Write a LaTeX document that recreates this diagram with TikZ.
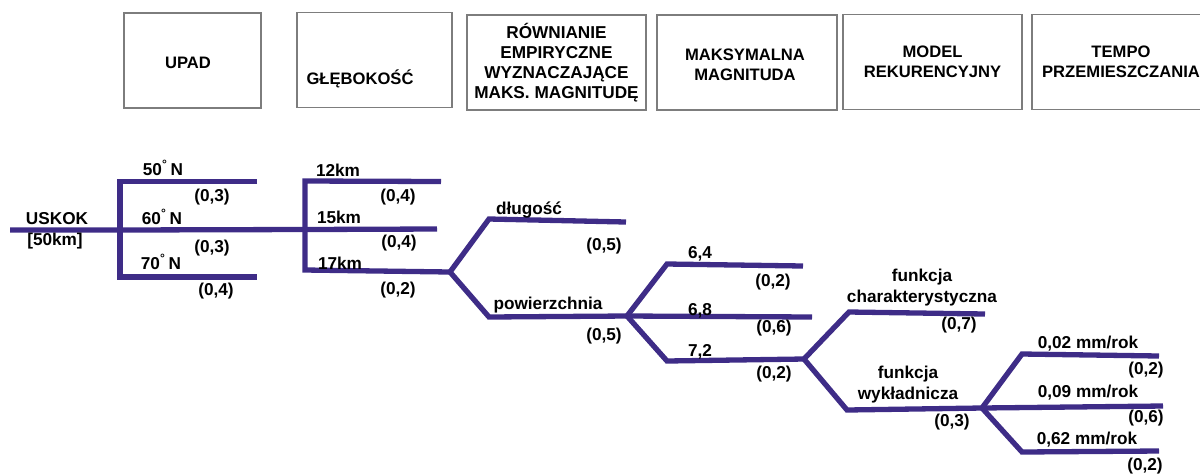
\documentclass[tikz,border=0pt]{standalone}
\usepackage{fontspec}
\setmainfont{Liberation Sans}
\usepackage{tikz}
\usetikzlibrary{%
calc,%
positioning}
\definecolor{faultline}{RGB}{62,44,135}
\definecolor{boxgray}{RGB}{125,125,125}
\tikzset{
  headbox/.style={draw=boxgray,line width=0.8pt,minimum height=47.5pt,inner sep=0pt,align=center,font=\bfseries\fontsize{8.3}{10}\selectfont},
  lbl/.style={inner sep=0pt,align=center,font=\bfseries\fontsize{8.6}{10.5}\selectfont},
  branch/.style={faultline,line width=2.65pt}
}

\begin{document}
\begin{tikzpicture}[x=0.5pt,y=-0.5pt]
\useasboundingbox (0,0) rectangle (1200,473);
\begin{scope}
\clip (0,0) rectangle (1200,473);
\node[headbox,minimum width=68.5pt] (upad) at (192.5,60.5) {};
\node[lbl,font=\bfseries\fontsize{8.3}{10}\selectfont] (upadtxt) at (188,63) {UPAD};
\node[headbox,minimum width=77.5pt] (glebokosc) at (374.5,60) {};
\node[lbl,font=\bfseries\fontsize{8.3}{10}\selectfont] (glebokosctxt) at (360,79) {GŁĘBOKOŚĆ};
\node[headbox,minimum width=89.5pt,font=\bfseries\fontsize{8.6}{10}\selectfont] (rownanie) at (556.5,62.5) {RÓWNIANIE\\EMPIRYCZNE\\WYZNACZAJĄCE\\MAKS. MAGNITUDĘ};
\node[headbox,minimum width=90pt] (magnituda) at (747,62.5) {};
\node[lbl,font=\bfseries\fontsize{8.3}{10}\selectfont] (magnitudatxt) at (745,65) {MAKSYMALNA\\MAGNITUDA};
\node[headbox,minimum width=89.5pt] (model) at (932.5,62) {MODEL\\REKURENCYJNY};
\node[headbox,minimum width=89pt] (tempo) at (1121,62) {TEMPO\\PRZEMIESZCZANIA};
\end{scope}

\begin{scope}[every path/.style={branch}]
\coordinate (s0) at (10,230);
\coordinate (j1) at (120,230);
\coordinate (j1a) at (120,181.5);
\coordinate (j1b) at (120,277);
\coordinate (e1a) at (257,181.5);
\coordinate (e1b) at (257,277);
\coordinate (j2) at (305,229.5);
\coordinate (j2a) at (305,181);
\coordinate (j2b) at (305,270);
\coordinate (e2a) at (441,181.5);
\coordinate (e2m) at (437,229);
\coordinate (s3) at (450,272);
\coordinate (d1) at (489,219);
\coordinate (e3a) at (626,222);
\coordinate (d2) at (489,317);
\coordinate (s4) at (627,316);
\coordinate (d3) at (667,264);
\coordinate (e4a) at (803,266);
\coordinate (e4m) at (812,317);
\coordinate (d4) at (667,361);
\coordinate (s5) at (804,359);
\coordinate (d5) at (849,312);
\coordinate (e5a) at (985,314);
\coordinate (d6) at (847,410);
\coordinate (s6) at (982,408);
\coordinate (d7) at (1022,354);
\coordinate (e6a) at (1159,356);
\coordinate (e6m) at (1163,406);
\coordinate (d8) at (1022,452);
\coordinate (e6b) at (1159,451);
\draw (s0) -- (j1) -- (j2) -- (e2m);
\draw (e1a) -- (j1a) -- (j1b) -- (e1b);
\draw (e2a) -- (j2a) -- (j2b) -- (s3);
\draw (e3a) -- (d1) -- (s3) -- (d2) -- (s4);
\draw (e4a) -- (d3) -- (s4) -- (d4) -- (s5);
\draw (s4) -- (e4m);
\draw (e5a) -- (d5) -- (s5) -- (d6) -- (s6);
\draw (e6a) -- (d7) -- (s6) -- (d8) -- (e6b);
\draw (s6) -- (e6m);
\end{scope}

\node[lbl] (uskok) at (57,219) {USKOK};
\node[lbl] (uskokdl) at (55,241) {[50km]};
\node[lbl] (n50) at (163,168) {50\textsuperscript{°}\,N};
\node[lbl] (p50) at (212,197) {(0,3)};
\node[lbl] (n60) at (162,217) {60\textsuperscript{°}\,N};
\node[lbl] (p60) at (212,248) {(0,3)};
\node[lbl] (n70) at (161,262) {70\textsuperscript{°}\,N};
\node[lbl] (p70) at (216,291) {(0,4)};
\node[lbl] (km12) at (338,170) {12km};
\node[lbl] (p12) at (398,197) {(0,4)};
\node[lbl] (km15) at (339,217) {15km};
\node[lbl] (p15) at (399,243) {(0,4)};
\node[lbl] (km17) at (340,263) {17km};
\node[lbl] (p17) at (398,290) {(0,2)};
\node[lbl] (dlugosc) at (529,210) {długość};
\node[lbl] (pdl) at (604,246) {(0,5)};
\node[lbl] (powierz) at (548,305) {powierzchnia};
\node[lbl] (ppow) at (604,336) {(0,5)};
\node[lbl] (m64) at (700,254) {6,4};
\node[lbl] (p64) at (773,282) {(0,2)};
\node[lbl] (m68) at (700,311) {6,8};
\node[lbl] (p68) at (774,328) {(0,6)};
\node[lbl] (m72) at (700,352) {7,2};
\node[lbl] (p72) at (774,374) {(0,2)};
\node[lbl] (fchar) at (922,288) {funkcja\\charakterystyczna};
\node[lbl] (pchar) at (959,325) {(0,7)};
\node[lbl] (fwyk) at (908,385) {funkcja\\wykładnicza};
\node[lbl] (pwyk) at (952,422) {(0,3)};
\node[lbl] (t002) at (1088,344) {0,02 mm/rok};
\node[lbl] (p002) at (1146,370) {(0,2)};
\node[lbl] (t009) at (1088,393) {0,09 mm/rok};
\node[lbl] (p009) at (1146,418) {(0,6)};
\node[lbl] (t062) at (1087,440) {0,62 mm/rok};
\node[lbl] (p062) at (1145,466) {(0,2)};
\end{tikzpicture}
\end{document}
